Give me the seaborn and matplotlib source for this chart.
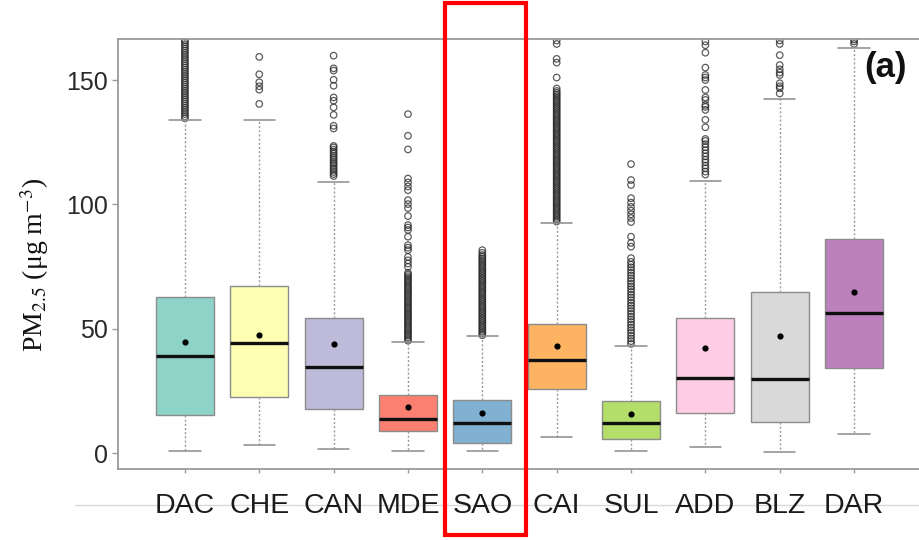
import matplotlib
matplotlib.use("Agg")
import matplotlib.pyplot as plt
from matplotlib.patches import Rectangle
from matplotlib.lines import Line2D
import seaborn as sns
import pandas as pd

# station order and box statistics (ug m-3)
stations = ["DAC", "CHE", "CAN", "MDE", "SAO", "CAI", "SUL", "ADD", "BLZ", "DAR"]
q1 = [15.2, 22.5, 17.9, 8.8, 4.2, 25.8, 5.8, 16.0, 12.6, 34.1]
median = [39.1, 44.3, 34.5, 13.7, 12.1, 37.5, 12.0, 30.2, 29.8, 56.3]
q3 = [62.8, 67.1, 54.4, 23.3, 21.4, 52.0, 20.8, 54.2, 64.6, 85.9]
whis_lo = [0.9, 3.1, 1.7, 0.9, 0.8, 6.5, 0.8, 2.4, 0.4, 7.7]
whis_hi = [134.0, 134.0, 109.0, 44.5, 46.9, 92.6, 43.0, 109.5, 142.3, 162.8]
means = [44.6, 47.3, 43.7, 18.4, 16.1, 43.1, 15.8, 42.3, 47.0, 64.9]

# outliers per station
out_dac = [134.6, 135.4, 136.3, 137.1, 138.0, 138.8, 139.7, 140.5, 141.4, 142.2,
           143.1, 143.9, 144.8, 145.6, 146.5, 147.3, 148.2, 149.0, 149.9, 150.7,
           151.6, 152.4, 153.3, 154.1, 155.0, 155.8, 156.7, 157.5, 158.4, 159.2,
           160.1, 160.9, 161.8, 162.6, 163.5, 164.3, 165.2, 166.0, 167.5]
out_che = [140.4, 146.1, 147.5, 149.1, 152.3, 159.3]
out_can = [111.4, 112.2, 113.0, 113.9, 114.6, 115.5, 116.3, 117.0, 117.9, 118.7,
           119.5, 120.4, 121.2, 122.0, 122.9, 123.5, 130.5, 131.6, 136.0, 139.0,
           141.7, 143.0, 147.7, 150.1, 153.8, 154.7, 159.8]
out_mde = [45.2, 45.9, 46.6, 47.3, 48.0, 48.7, 49.4, 50.1, 50.8, 51.5,
           52.2, 52.9, 53.6, 54.3, 55.0, 55.7, 56.4, 57.1, 57.8, 58.5,
           59.2, 59.9, 60.6, 61.3, 62.0, 62.7, 63.4, 64.1, 64.8, 65.5,
           66.2, 66.9, 67.6, 68.3, 69.0, 69.7, 70.4, 71.1, 71.8, 72.5,
           74.9, 76.2, 77.5, 78.9, 81.6, 82.6, 83.6, 87.0, 89.7, 90.7,
           91.7, 95.3, 98.5, 100.1, 101.7, 105.7, 107.2, 108.8, 110.4, 122.1,
           127.6, 136.3]
out_sao = [47.4, 48.1, 48.8, 49.5, 50.2, 50.9, 51.6, 52.3, 53.0, 53.7,
           54.4, 55.1, 55.8, 56.5, 57.2, 57.9, 58.6, 59.3, 60.0, 60.7,
           61.4, 62.1, 62.8, 63.5, 64.2, 64.9, 65.6, 66.3, 67.0, 67.7,
           68.4, 69.1, 69.8, 70.5, 71.2, 71.9, 72.6, 73.3, 74.0, 74.7,
           75.4, 76.1, 76.8, 77.5, 78.2, 78.9, 79.6, 80.5, 81.6]
out_cai = [93.1, 93.8, 94.5, 95.2, 95.9, 96.6, 97.3, 98.0, 98.7, 99.4,
           100.1, 100.8, 101.5, 102.2, 102.9, 103.6, 104.3, 105.0, 105.7, 106.4,
           107.1, 107.8, 108.5, 109.2, 109.9, 110.6, 111.3, 112.0, 112.7, 113.4,
           114.1, 114.8, 115.5, 116.2, 116.9, 117.6, 118.3, 119.0, 119.7, 120.4,
           121.1, 121.8, 122.5, 123.2, 123.9, 124.6, 125.3, 126.0, 126.7, 127.4,
           128.1, 128.8, 129.5, 130.2, 130.9, 131.6, 132.3, 133.0, 133.7, 134.4,
           135.1, 135.8, 136.5, 137.2, 137.9, 138.6, 139.3, 140.0, 140.7, 141.4,
           142.1, 142.8, 143.5, 144.2, 144.9, 145.6, 146.6, 151.0, 157.0, 158.5,
           164.5, 165.9]
out_sul = [43.9, 45.0, 46.1, 47.2, 48.3, 49.4, 50.5, 51.6, 52.7, 53.8,
           54.9, 56.0, 57.1, 58.2, 59.3, 60.4, 61.5, 62.6, 63.7, 64.8,
           65.9, 67.0, 68.1, 69.2, 70.3, 71.4, 72.5, 73.6, 74.7, 75.8,
           76.9, 78.4, 83.0, 84.5, 87.0, 92.9, 94.5, 96.0, 97.5, 99.0,
           100.7, 102.5, 107.8, 109.8, 116.2]
out_add = [112.0, 113.2, 114.5, 115.6, 116.9, 118.0, 119.3, 120.5, 121.8, 123.0,
           124.2, 125.5, 126.3, 131.0, 134.0, 138.0, 139.2, 140.0, 142.0, 143.0,
           146.0, 150.0, 151.0, 152.0, 155.0, 161.0, 164.0, 165.5]
out_blz = [144.6, 146.7, 147.5, 148.7, 152.0, 153.0, 154.3, 156.0, 160.0, 164.5, 165.9]
out_dar = [164.5, 165.5, 166.3]
outliers = [out_dac, out_che, out_can, out_mde, out_sao,
            out_cai, out_sul, out_add, out_blz, out_dar]

sns.set_theme(style="white")
plt.rcParams["font.family"] = ["Liberation Sans", "DejaVu Sans"]
plt.rcParams["mathtext.fontset"] = "stix"

palette = sns.color_palette("Set3", 10)
pos = list(range(len(stations)))

fig = plt.figure(figsize=(9.19, 5.40), dpi=100)
ax = fig.add_axes([118 / 919, 71 / 540, 803 / 919, 430 / 540])

stats = []
for i, s in enumerate(stations):
    stats.append(dict(label=s, q1=q1[i], med=median[i], q3=q3[i],
                      whislo=whis_lo[i], whishi=whis_hi[i], mean=means[i], fliers=[]))

bp = ax.bxp(stats, positions=pos, widths=0.78, capwidths=0.42, patch_artist=True,
            showfliers=False, showmeans=False,
            boxprops=dict(edgecolor="#8c8c8c", linewidth=1.0),
            medianprops=dict(color="#101010", linewidth=2.4),
            whiskerprops=dict(color="#9a9a9a", linewidth=1.0, linestyle=(0, (1.5, 1.5))),
            capprops=dict(color="#8c8c8c", linewidth=1.1))
for patch, c in zip(bp["boxes"], palette):
    patch.set_facecolor(c)

# outliers as hollow circles
out_df = pd.DataFrame({
    "pos": [p for p, vals in zip(pos, outliers) for _ in vals],
    "value": [v for vals in outliers for v in vals],
})
sns.scatterplot(data=out_df, x="pos", y="value", ax=ax, marker="o", s=22,
                facecolor="none", edgecolor=(0.15, 0.15, 0.15, 0.75),
                linewidth=0.9, zorder=1, clip_on=True)

mean_df = pd.DataFrame({"pos": pos, "mean": means})
sns.scatterplot(data=mean_df, x="pos", y="mean", ax=ax, color="black", s=20,
                edgecolor="black", linewidth=0, zorder=5)

ax.set_xlim(-0.9, 9.9)
ax.set_ylim(-6.4, 166.5)
ax.set_xticks(pos)
ax.set_xticklabels(stations)
ax.set_yticks([0, 50, 100, 150])
ax.set_xlabel("")
ax.set_ylabel("PM$_{2.5}$ (μg m$^{-3}$)", family="Liberation Serif",
              fontsize=20, color="#111111")
ax.yaxis.set_label_coords(-0.084, 0.475)
ax.tick_params(axis="y", length=4, width=1, color="#9a9a9a", labelsize=18,
               labelcolor="#2a2a2a", pad=3, left=True)
ax.tick_params(axis="x", length=3, width=1, color="#9a9a9a", labelsize=20.5,
               labelcolor="#1a1a1a", pad=14, bottom=True)
for sp in ax.spines.values():
    sp.set_color("#9a9a9a")
    sp.set_linewidth(1.3)

# faint separator line and panel tag
fig.add_artist(Line2D([75 / 919, 1.0], [1 - 505 / 540, 1 - 505 / 540],
                      transform=fig.transFigure, color="#d9d9d9", lw=1, zorder=-1))
fig.text(886 / 919, 1 - 67 / 540, "(a)", fontsize=25, fontweight="bold",
         ha="center", va="center", color="#111111")

# red highlight around SAO
fig.add_artist(Rectangle((445 / 919, 1 - 535 / 540), 81 / 919, 532 / 540,
                         transform=fig.transFigure, fill=False,
                         edgecolor="#ff0000", linewidth=3.0, zorder=10))

fig.savefig("out.png", dpi=100)
